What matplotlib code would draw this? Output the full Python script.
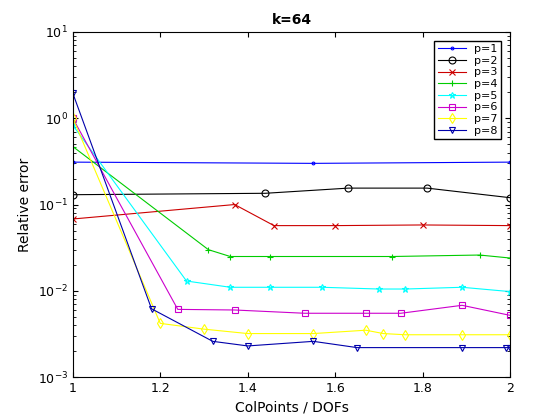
import matplotlib
matplotlib.use("Agg")
import matplotlib.pyplot as plt

# values (x = ColPoints / DOFs)
x1 = [1, 1.55, 2]
y1 = [0.31, 0.30, 0.31]
x2 = [1, 1.44, 1.63, 1.81, 2]
y2 = [0.13, 0.135, 0.155, 0.155, 0.12]
x3 = [1, 1.37, 1.46, 1.60, 1.80, 2]
y3 = [0.068, 0.10, 0.057, 0.057, 0.058, 0.057]
x4 = [1, 1.31, 1.36, 1.45, 1.73, 1.93, 2]
y4 = [0.47, 0.030, 0.025, 0.025, 0.025, 0.026, 0.024]
x5 = [1, 1.26, 1.36, 1.45, 1.57, 1.70, 1.76, 1.89, 2]
y5 = [0.83, 0.013, 0.011, 0.011, 0.011, 0.0105, 0.0105, 0.011, 0.0098]
x6 = [1, 1.24, 1.37, 1.53, 1.67, 1.75, 1.89, 2]
y6 = [1.0, 0.0061, 0.0060, 0.0055, 0.0055, 0.0055, 0.0068, 0.0052]
x7 = [1, 1.20, 1.30, 1.40, 1.55, 1.67, 1.71, 1.76, 1.89, 2]
y7 = [1.0, 0.0042, 0.0036, 0.0032, 0.0032, 0.0035, 0.0032, 0.0031, 0.0031, 0.0031]
x8 = [1, 1.18, 1.32, 1.40, 1.55, 1.65, 1.89, 1.99, 2]
y8 = [1.95, 0.0062, 0.0026, 0.0023, 0.0026, 0.0022, 0.0022, 0.0022, 0.0022]

series = [(x1, y1), (x2, y2), (x3, y3), (x4, y4), (x5, y5), (x6, y6), (x7, y7), (x8, y8)]
colors = ["#0000ff", "#000000", "#cc0000", "#00cc00", "#00ffff", "#cc00cc", "#ffff00", "#0000aa"]
markers = [".", "o", "x", "+", "*", "s", "d", "v"]

fig = plt.figure(figsize=(5.6, 4.2), dpi=100)
ax = fig.add_axes([0.130, 0.102, 0.781, 0.822])
for i, (xs, ys) in enumerate(series):
    ax.semilogy(xs, ys, color=colors[i], marker=markers[i], lw=0.8,
                ms=4 if markers[i] == "." else 5, mew=0.8,
                mfc="none", label=f"p={i + 1}")
ax.set_xlim(1, 2)
ax.set_ylim(1e-3, 1e1)
ax.set_xticks([1, 1.2, 1.4, 1.6, 1.8, 2])
ax.set_xticklabels(["1", "1.2", "1.4", "1.6", "1.8", "2"])
ax.tick_params(which="both", direction="in", top=True, right=True, labelsize=9)
ax.set_xlabel("ColPoints / DOFs", fontsize=10)
ax.set_ylabel("Relative error", fontsize=10)
ax.set_title("k=64", fontsize=10, fontweight="bold")
ax.legend(loc="upper right", fontsize=8, fancybox=False, edgecolor="black",
          framealpha=1, borderaxespad=0.8, labelspacing=0.15, handlelength=2.5,
          borderpad=0.3)
fig.savefig("out.png", dpi=100)
